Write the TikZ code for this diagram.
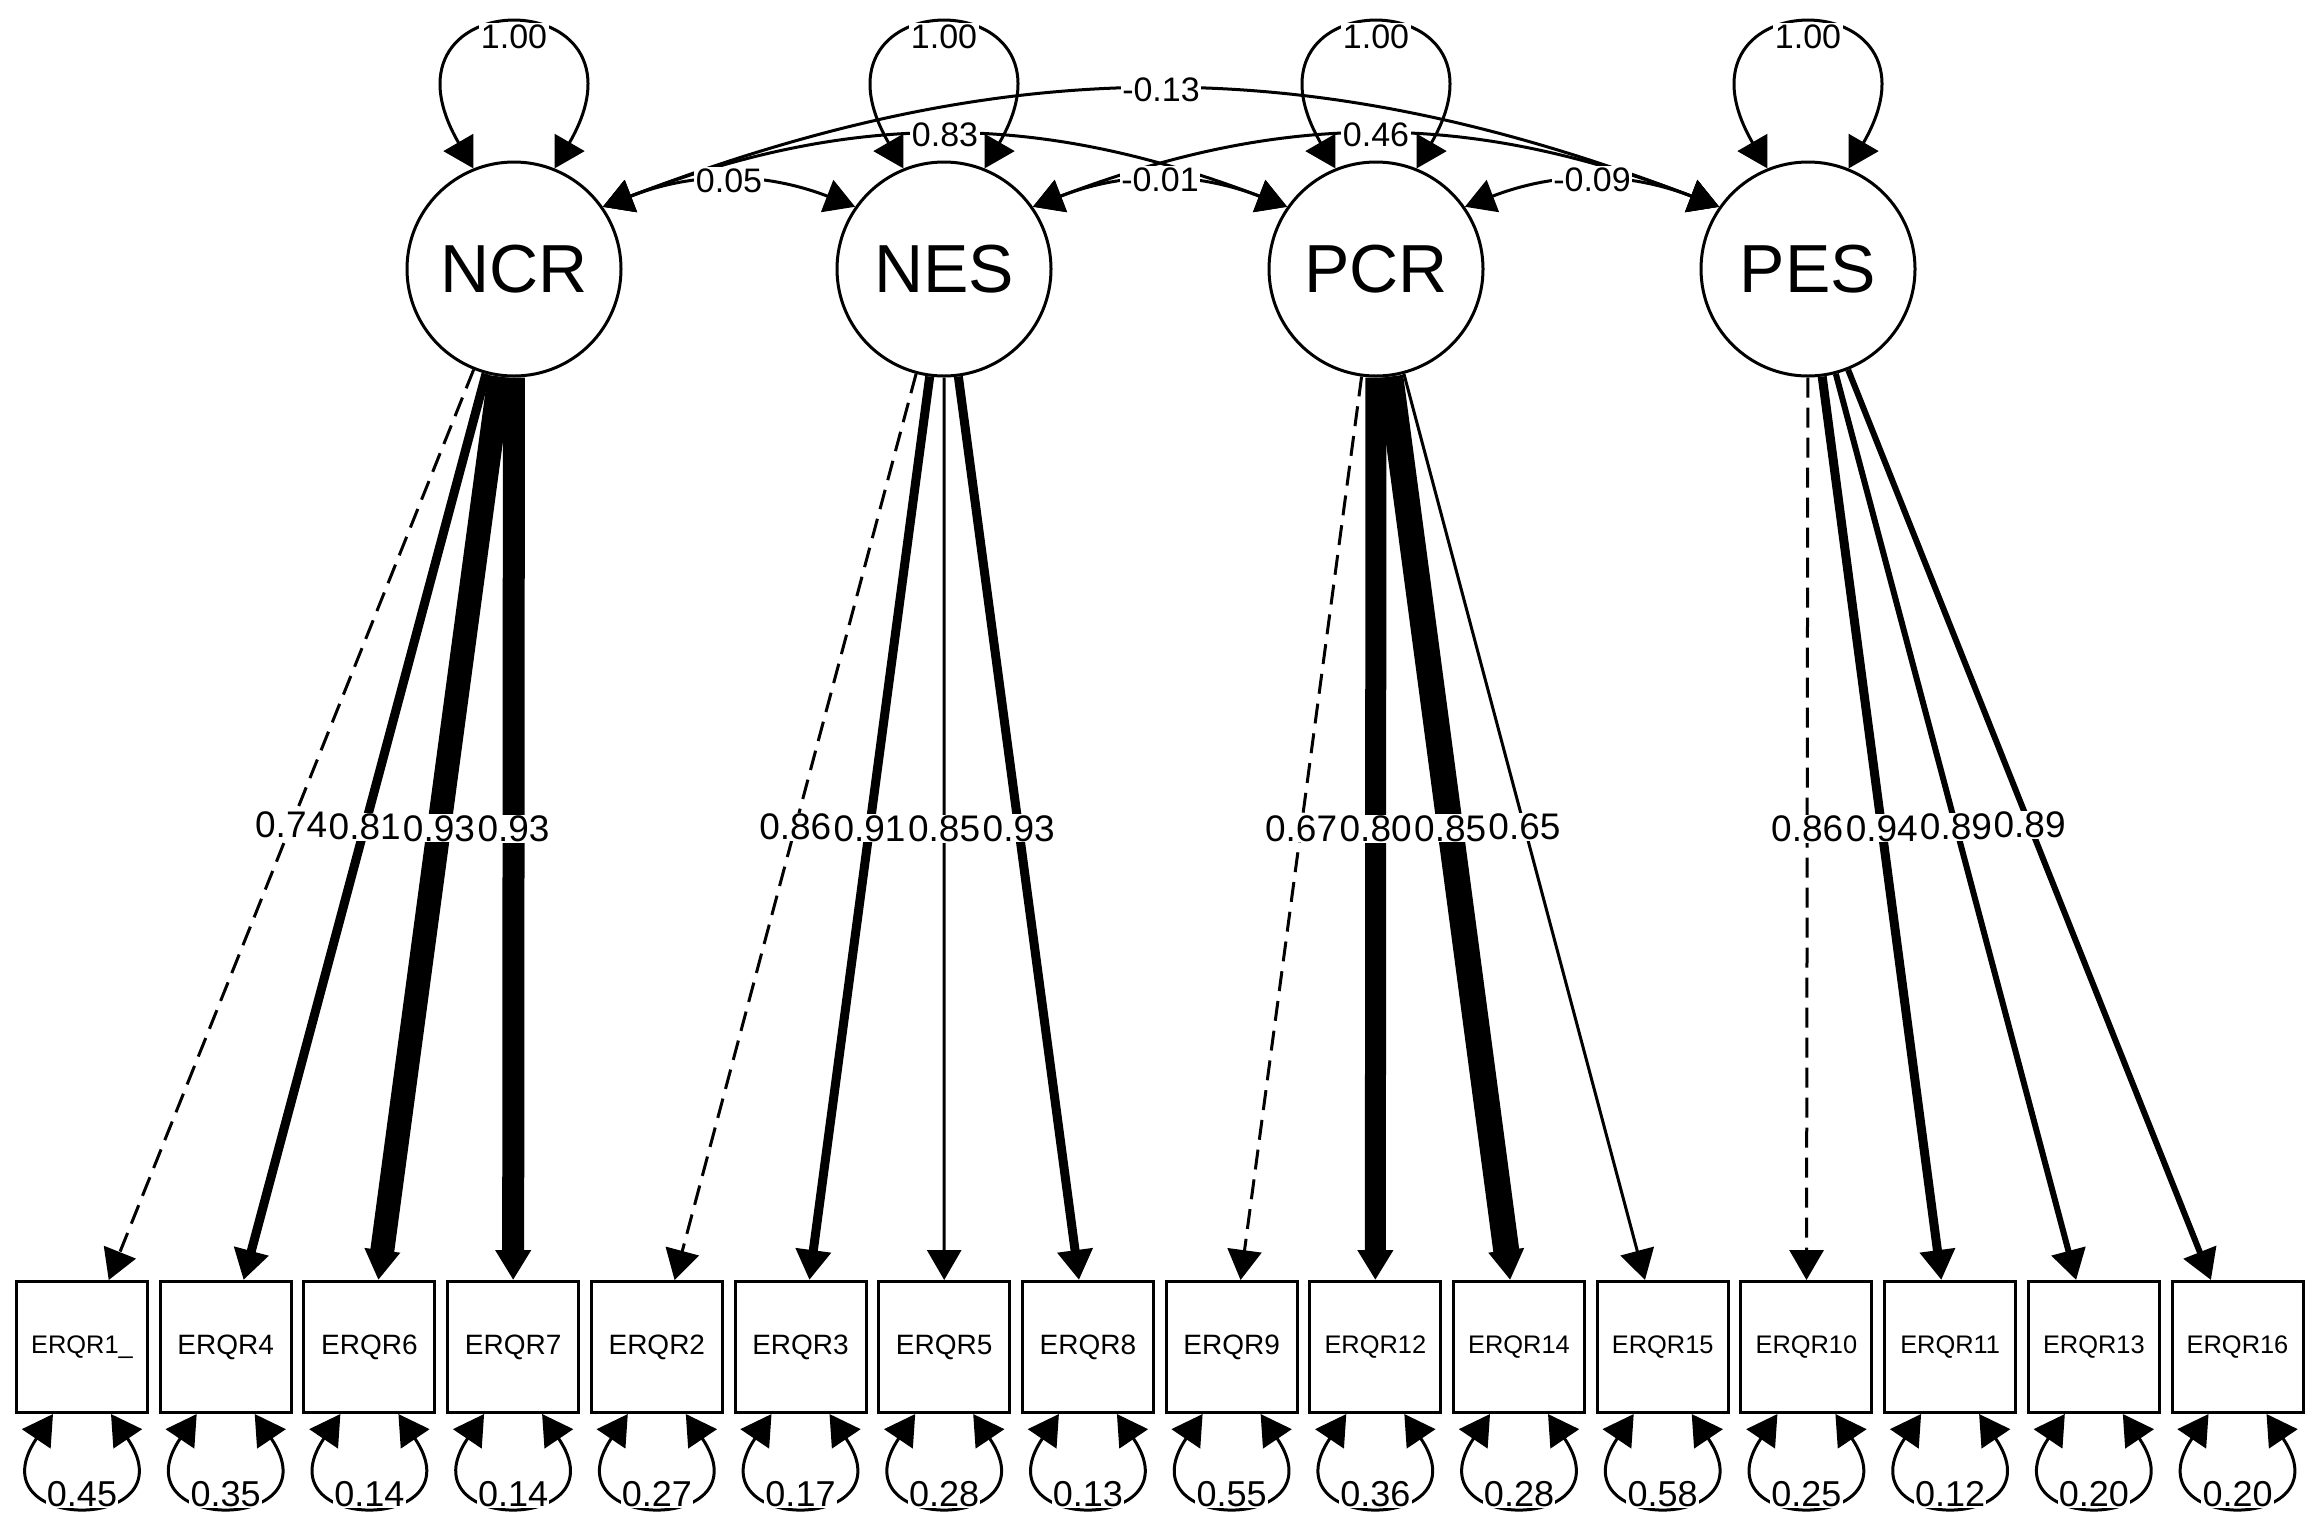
\documentclass[tikz,border=0pt]{standalone}
\usepackage{fontspec}
\setmainfont{Liberation Sans}
\usetikzlibrary{arrows.meta,calc}
\begin{document}
\begin{tikzpicture}[x=0.5pt,y=0.5pt,
  >={Triangle[length=15pt,width=17pt]},
  lat/.style={circle,draw,line width=1.5pt,minimum size=107pt,inner sep=0pt,fill=white,font=\fontsize{34}{34}\selectfont},
  obs/.style={rectangle,draw,line width=1.5pt,minimum width=65.5pt,minimum height=65.5pt,inner sep=0pt,font=\fontsize{14}{14}\selectfont},
  obsS/.style={obs,font=\fontsize{12.7}{12.7}\selectfont},
  cov/.style={line width=1.5pt},
  dsh/.style={dash pattern=on 10pt off 5pt},
  sld/.style={},
  lab/.style={fill=white,inner sep=0.8pt,font=\fontsize{17}{17}\selectfont},
  rlab/.style={fill=white,inner sep=0.6pt,font=\fontsize{18}{18}\selectfont},
  llab/.style={fill=white,inner sep=0.4pt,font=\fontsize{18.5}{18.5}\selectfont}]
\useasboundingbox (0,0) rectangle (2310,-1516);
% latent variables
\node[lat] (NCR) at (514,-269) {NCR};
\node[lat] (NES) at (944,-269) {NES};
\node[lat] (PCR) at (1376,-269) {PCR};
\node[lat] (PES) at (1808,-269) {PES};
% observed variables
\foreach \i/\t/\s in {1/ERQR1\_/obsS,2/ERQR4/obs,3/ERQR6/obs,4/ERQR7/obs,5/ERQR2/obs,6/ERQR3/obs,7/ERQR5/obs,8/ERQR8/obs,9/ERQR9/obs,10/ERQR12/obsS,11/ERQR14/obsS,12/ERQR15/obsS,13/ERQR10/obsS,14/ERQR11/obsS,15/ERQR13/obsS,16/ERQR16/obsS}
  \node[\s] (b\i) at ({82+143.7*(\i-1)},-1347) {\t};
% loadings
\foreach \l/\i/\w/\d in {NCR/1/1.5/dsh,NCR/2/4.5/sld,NCR/3/12/sld,NCR/4/11/sld,
  NES/5/1.5/dsh,NES/6/4.5/sld,NES/7/1.5/sld,NES/8/4.5/sld,
  PCR/9/1.5/dsh,PCR/10/10.5/sld,PCR/11/13/sld,PCR/12/1.5/sld,
  PES/13/1.5/dsh,PES/14/4.5/sld,PES/15/3/sld,PES/16/3/sld}
  \draw[->,line width=\w pt,\d] (\l) -- coordinate (m\i) (b\i);
% residual variances
\foreach \i in {1,...,16}
  \draw[<->,cov] ($(b\i.south)+(-29,0)$) .. controls ($(b\i.south)+(-110,-120)$) and ($(b\i.south)+(110,-120)$) .. ($(b\i.south)+(29,0)$);
% latent variances
\foreach \n in {NCR,NES,PCR,PES}
  \draw[<->,cov] (\n.112) .. controls ($(\n)+(-150,290)$) and ($(\n)+(150,290)$) .. (\n.68);
% covariances
\draw[<->,cov] (NCR.35) to[bend left=21] coordinate (c12) (NES.145);
\draw[<->,cov] (NCR.35) to[bend left=21] coordinate (c13) (PCR.145);
\draw[<->,cov] (NCR.35) to[bend left=21] coordinate (c14) (PES.145);
\draw[<->,cov] (NES.35) to[bend left=21] coordinate (c23) (PCR.145);
\draw[<->,cov] (NES.35) to[bend left=21] coordinate (c24) (PES.145);
\draw[<->,cov] (PCR.35) to[bend left=21] coordinate (c34) (PES.145);
% labels
\foreach \n in {NCR,NES,PCR,PES}
  \node[lab] (v\n) at ($(\n)+(0,232)$) {1.00};
\node[lab] (l12) at (c12) {0.05};
\node[lab] (l13) at (c13) {0.83};
\node[lab] (l14) at (c14) {-0.13};
\node[lab] (l23) at (c23) {-0.01};
\node[lab] (l24) at (c24) {0.46};
\node[lab] (l34) at (c34) {-0.09};
\foreach \i/\v in {1/0.74,2/0.81,3/0.93,4/0.93,5/0.86,6/0.91,7/0.85,8/0.93,9/0.67,10/0.80,11/0.85,12/0.65,13/0.86,14/0.94,15/0.89,16/0.89}
  \node[llab] (L\i) at (m\i) {\v};
\foreach \i/\v in {1/0.45,2/0.35,3/0.14,4/0.14,5/0.27,6/0.17,7/0.28,8/0.13,9/0.55,10/0.36,11/0.28,12/0.58,13/0.25,14/0.12,15/0.20,16/0.20}
  \node[rlab] (r\i) at ($(b\i.south)+(0,-80)$) {\v};
\end{tikzpicture}
\end{document}
